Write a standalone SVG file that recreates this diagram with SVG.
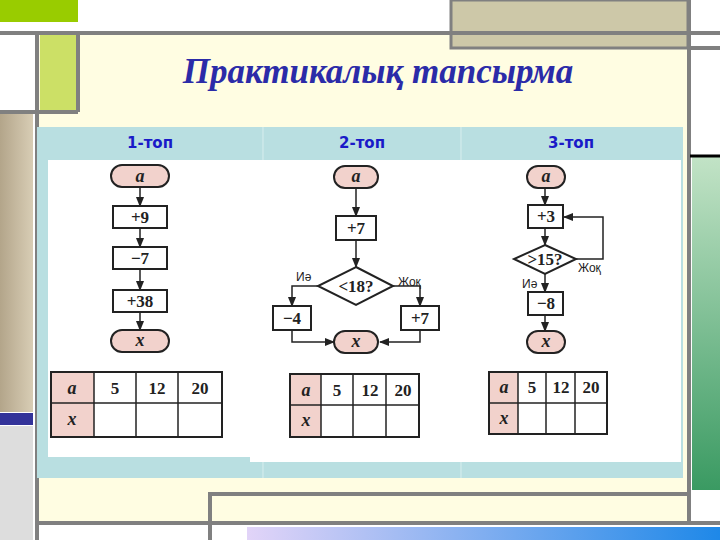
<svg xmlns="http://www.w3.org/2000/svg" width="720" height="540" viewBox="0 0 720 540">
<defs>
<linearGradient id="tan" x1="0" y1="0" x2="1" y2="0"><stop offset="0" stop-color="#b3a58a"/><stop offset="1" stop-color="#d8cdb5"/></linearGradient>
<linearGradient id="grn" x1="0" y1="0" x2="0" y2="1"><stop offset="0" stop-color="#c2e3c6"/><stop offset="1" stop-color="#3a9a62"/></linearGradient>
<linearGradient id="blu" x1="0" y1="0" x2="1" y2="0"><stop offset="0" stop-color="#e2d4f8"/><stop offset="1" stop-color="#1e88e8"/></linearGradient>
<marker id="ar" viewBox="0 0 10 10" refX="9" refY="5" markerWidth="7" markerHeight="7" orient="auto"><path d="M0,1 L10,5 L0,9 z" fill="#222"/></marker>
<style>
.ln{stroke:#222;stroke-width:1.5;fill:none}
.cn{stroke:#222;stroke-width:1.5;fill:none;marker-end:url(#ar)}
.box{fill:#fff;stroke:#222;stroke-width:2}
.term{fill:#f2d2cc;stroke:#222;stroke-width:2}
.t{font-family:"Liberation Serif",serif;font-weight:bold;font-size:17px;text-anchor:middle;fill:#222}
.ti{font-family:"Liberation Serif",serif;font-weight:bold;font-style:italic;font-size:18px;text-anchor:middle;fill:#222}
.lab{font-family:"Liberation Sans",sans-serif;font-size:12px;fill:#222}
.hd{font-family:"DejaVu Sans",sans-serif;font-weight:bold;font-size:15px;text-anchor:middle;fill:#1a1ac8}
.gl{stroke:#808080;stroke-width:4;fill:none}
</style>
</defs>
<rect width="720" height="540" fill="#fff"/>
<rect x="37" y="33" width="652" height="490" fill="#fffde2"/>
<rect x="0" y="0" width="78" height="22" fill="#99cc00"/>
<rect x="40" y="35" width="38" height="77" fill="#cce066"/>
<rect x="0" y="114" width="33" height="298" fill="url(#tan)"/>
<rect x="0" y="413" width="33" height="12" fill="#333399"/>
<rect x="0" y="426" width="33" height="114" fill="#ddd"/>
<rect x="451" y="0" width="237" height="48" fill="#cdc8a8" stroke="#808080" stroke-width="3"/>
<rect x="692" y="157" width="28" height="333" fill="url(#grn)"/>
<rect x="247" y="527" width="473" height="13" fill="url(#blu)"/>
<line x1="0" y1="33" x2="720" y2="33" class="gl"/>
<line x1="37" y1="33" x2="37" y2="540" class="gl"/>
<line x1="689" y1="0" x2="689" y2="525" class="gl"/>
<line x1="689" y1="48" x2="720" y2="48" class="gl"/>
<line x1="690" y1="156" x2="720" y2="156" stroke="#000" stroke-width="3"/>
<line x1="37" y1="523" x2="720" y2="523" class="gl"/>
<polyline points="210,540 210,494 689,494" class="gl"/>
<line x1="0" y1="112" x2="78" y2="112" class="gl"/>
<line x1="78" y1="35" x2="78" y2="112" class="gl"/>
<text x="378" y="83" font-family="Liberation Serif,serif" font-weight="bold" font-style="italic" font-size="35" text-anchor="middle" fill="#2b2ba8">Практикалық тапсырма</text>

<g id="table">
<rect x="37" y="127" width="646" height="351" fill="#b9dfe1"/>
<line x1="263" y1="127" x2="263" y2="478" stroke="#d8eeee" stroke-width="1"/>
<line x1="461" y1="127" x2="461" y2="478" stroke="#d8eeee" stroke-width="1"/>
<rect x="48" y="160" width="203" height="297" fill="#fff"/>
<rect x="250" y="160" width="431" height="302" fill="#fff"/>
<text x="150" y="148" class="hd">1-топ</text>
<text x="362" y="148" class="hd">2-топ</text>
<text x="571" y="148" class="hd">3-топ</text>
</g>

<g id="connectors">
<line x1="140" y1="187" x2="140" y2="206" class="cn"/>
<line x1="140" y1="228" x2="140" y2="247" class="cn"/>
<line x1="140" y1="269" x2="140" y2="290" class="cn"/>
<line x1="140" y1="312" x2="140" y2="330" class="cn"/>
<line x1="356" y1="188" x2="356" y2="216" class="cn"/>
<line x1="356" y1="240" x2="356" y2="267" class="cn"/>
<polyline points="318,286 292,286 292,306" class="cn"/>
<polyline points="393,286 420,286 420,306" class="cn"/>
<polyline points="292,330 292,342 334,342" class="cn"/>
<polyline points="420,330 420,342 380,342" class="cn"/>
<line x1="545" y1="188" x2="545" y2="205" class="cn"/>
<line x1="545" y1="228" x2="545" y2="245" class="cn"/>
<polyline points="576,259 603,259 603,217 564,217" class="cn"/>
<line x1="545" y1="274" x2="545" y2="292" class="cn"/>
<line x1="545" y1="315" x2="545" y2="331" class="cn"/>
</g>

<g id="g1">
<rect x="111" y="165" width="58" height="22" rx="11" class="term"/><text x="140" y="182" class="ti">a</text>
<rect x="113" y="206" width="54" height="22" class="box"/><text x="140" y="223" class="t">+9</text>
<rect x="113" y="247" width="54" height="22" class="box"/><text x="140" y="264" class="t">−7</text>
<rect x="113" y="290" width="54" height="22" class="box"/><text x="140" y="307" class="t">+38</text>
<rect x="111" y="330" width="58" height="22" rx="11" class="term"/><text x="140" y="346" class="ti">x</text>
</g>
<g id="t1">
<rect x="51" y="372" width="43" height="65" fill="#f2d2cc"/>
<rect x="51" y="372" width="171" height="65" fill="none" stroke="#222" stroke-width="2"/>
<line x1="51" y1="403" x2="222" y2="403" class="ln"/><line x1="94" y1="372" x2="94" y2="437" class="ln"/><line x1="136" y1="372" x2="136" y2="437" class="ln"/><line x1="178" y1="372" x2="178" y2="437" class="ln"/>
<text x="72" y="394" class="ti" font-size="20">a</text><text x="72" y="425" class="ti" font-size="20">x</text>
<text x="115" y="394" class="t" font-size="19">5</text><text x="157" y="394" class="t" font-size="19">12</text><text x="200" y="394" class="t" font-size="19">20</text>
</g>

<g id="g2">
<rect x="334" y="166" width="44" height="22" rx="11" class="term"/><text x="356" y="182" class="ti">a</text>
<rect x="336" y="216" width="40" height="24" class="box"/><text x="356" y="234" class="t">+7</text>
<polygon points="356,267 393,286 356,305 318,286" class="box"/><text x="356" y="292" class="t" font-weight="normal" font-size="16">&lt;18?</text>
<rect x="273" y="306" width="38" height="24" class="box"/><text x="292" y="324" class="t">−4</text>
<rect x="401" y="306" width="38" height="24" class="box"/><text x="420" y="324" class="t">+7</text>
<rect x="334" y="331" width="44" height="22" rx="11" class="term"/><text x="356" y="347" class="ti">x</text>
<text x="296" y="281" class="lab" font-size="13">Иә</text>
<text x="398" y="286" class="lab" font-size="11">Жоқ</text>
</g>
<g id="t2">
<rect x="290" y="374" width="31" height="63" fill="#f2d2cc"/>
<rect x="290" y="374" width="129" height="63" fill="none" stroke="#222" stroke-width="2"/>
<line x1="290" y1="405" x2="419" y2="405" class="ln"/><line x1="321" y1="374" x2="321" y2="437" class="ln"/><line x1="353" y1="374" x2="353" y2="437" class="ln"/><line x1="386" y1="374" x2="386" y2="437" class="ln"/>
<text x="306" y="396" class="ti">a</text><text x="306" y="426" class="ti">x</text>
<text x="337" y="396" class="t" font-weight="normal" font-size="18">5</text><text x="370" y="396" class="t" font-weight="normal" font-size="18">12</text><text x="403" y="396" class="t" font-weight="normal" font-size="18">20</text>
</g>

<g id="g3">
<rect x="527" y="166" width="38" height="22" rx="11" class="term"/><text x="546" y="182" class="ti">a</text>
<rect x="528" y="205" width="35" height="23" class="box"/><text x="546" y="222" class="t" font-size="15">+3</text>
<polygon points="545,245 576,259 545,274 514,259" class="box"/><text x="545" y="265" class="t" font-weight="normal" font-size="14">&gt;15?</text>
<rect x="528" y="292" width="35" height="23" class="box"/><text x="546" y="309" class="t" font-size="15">−8</text>
<rect x="527" y="331" width="38" height="22" rx="11" class="term"/><text x="546" y="347" class="ti">x</text>
<text x="522" y="288" class="lab" font-size="13">Иә</text>
<text x="578" y="272" class="lab" font-size="11">Жоқ</text>
</g>
<g id="t3">
<rect x="489" y="372" width="29" height="62" fill="#f2d2cc"/>
<rect x="489" y="372" width="118" height="62" fill="none" stroke="#222" stroke-width="2"/>
<line x1="489" y1="403" x2="607" y2="403" class="ln"/><line x1="518" y1="372" x2="518" y2="434" class="ln"/><line x1="546" y1="372" x2="546" y2="434" class="ln"/><line x1="575" y1="372" x2="575" y2="434" class="ln"/>
<text x="504" y="393" class="ti">a</text><text x="504" y="424" class="ti">x</text>
<text x="532" y="393" class="t" font-weight="normal" font-size="17">5</text><text x="561" y="393" class="t" font-weight="normal" font-size="17">12</text><text x="591" y="393" class="t" font-weight="normal" font-size="17">20</text>
</g>
</svg>
